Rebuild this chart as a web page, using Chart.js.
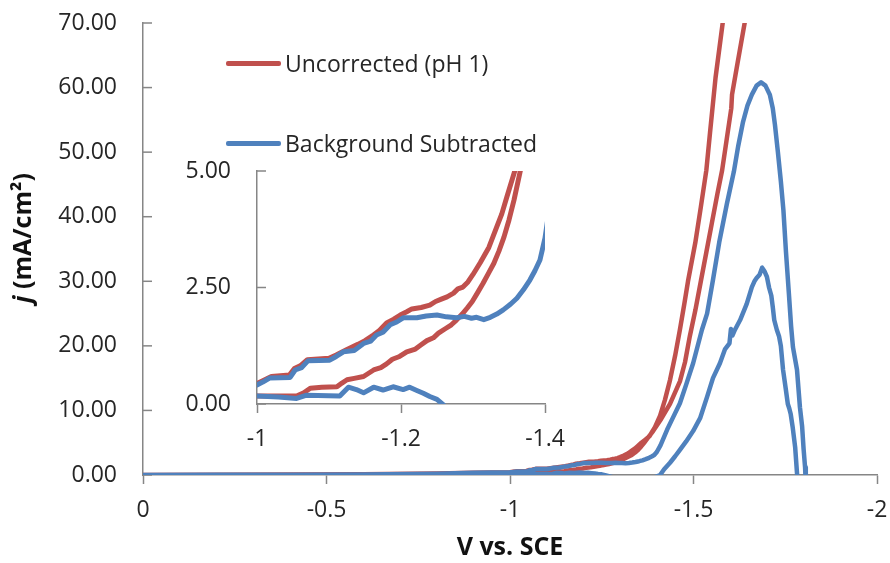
<!DOCTYPE html>
<html>
<head>
<meta charset="utf-8">
<script src="https://cdn.jsdelivr.net/npm/chart.js@4.4.1/dist/chart.umd.min.js"></script>
<style>
  body { margin: 0; background: #fff; }
  #wrap { position: relative; width: 890px; height: 563px; font-family: 'Open Sans', sans-serif; }
  #wrap canvas { position: absolute; }
  .leg-line { position: absolute; height: 4.5px; width: 55px; left: 226px; border-radius: 2px; }
  .leg-text { position: absolute; left: 285px; font-size: 23px; color: #262626; white-space: nowrap; line-height: 30px; }
</style>
</head>
<body>
<div id="wrap">
  <canvas id="mainChart" width="890" height="563" style="left:0;top:0"></canvas>
  <canvas id="insetChart" width="420" height="320" style="left:150px;top:140px"></canvas>
  <div id="legend"></div>
</div>
<script>
// Voltametria: densidade de corrente j (mA/cm2) vs potencial V vs. SCE

const seriesNames = ['Uncorrected (pH 1)', 'Background Subtracted'];
const seriesColors = ['#C0504D', '#4F81BD'];

// Curva sem correção (ida pelo ramo inferior, volta pelo ramo superior)
const uncorrectedV = [
  0, -0.2, -0.4, -0.6, -0.8, -0.9, -1.0, -1.03, -1.055, -1.065, -1.074, -1.09, -1.111, -1.118, -1.125,
  -1.135, -1.148, -1.155, -1.162, -1.172, -1.18, -1.188, -1.198, -1.208, -1.22, -1.228, -1.236, -1.245,
  -1.252, -1.262, -1.27, -1.277, -1.285, -1.292, -1.299, -1.306, -1.314, -1.322, -1.329, -1.336, -1.343,
  -1.35, -1.357, -1.365, -1.375, -1.39, -1.41, -1.436, -1.463, -1.477, -1.49, -1.505, -1.52, -1.535,
  -1.55, -1.565, -1.578, -1.59, -1.603, -1.605, -1.62, -1.64, -1.66, -1.8,
  -1.6, -1.58, -1.56, -1.545, -1.535, -1.52, -1.505, -1.485, -1.475, -1.463, -1.45, -1.436, -1.422,
  -1.409, -1.395, -1.38, -1.367, -1.358, -1.347, -1.34, -1.333, -1.322, -1.31, -1.3, -1.293, -1.286,
  -1.279, -1.273, -1.264, -1.256, -1.248, -1.24, -1.228, -1.215, -1.208, -1.199, -1.19, -1.18, -1.17,
  -1.16, -1.15, -1.14, -1.125, -1.11, -1.1, -1.07, -1.06, -1.052, -1.045, -1.02, -1.008, -1.0, -0.9,
  -0.8, -0.6, -0.4, -0.2, 0
];
const uncorrectedJ = [
  0, 0.02, 0.04, 0.07, 0.11, 0.14, 0.17, 0.17, 0.17, 0.24, 0.34, 0.36, 0.37, 0.45, 0.52,
  0.55, 0.59, 0.66, 0.73, 0.78, 0.86, 0.96, 1.02, 1.12, 1.18, 1.27, 1.36, 1.42,
  1.52, 1.62, 1.7, 1.8, 1.93, 2.06, 2.2, 2.38, 2.59, 2.82, 3.02, 3.28, 3.58,
  3.95, 4.38, 4.95, 5.7, 6.8, 8.5, 11.0, 14.5, 17.5, 21.5, 25.5, 30.0, 34.5,
  39.0, 43.5, 47.2, 51.8, 56.8, 58.9, 63.8, 70.2, 76.5, 140,
  77.5, 70.2, 61.5, 53.0, 47.2, 41.5, 36.0, 30.0, 26.5, 22.5, 18.5, 14.7, 11.6,
  9.2, 7.4, 6.0, 5.4, 5.0, 4.44, 4.08, 3.8, 3.36, 3.03, 2.78, 2.62, 2.51,
  2.47, 2.38, 2.3, 2.25, 2.2, 2.12, 2.07, 2.04, 1.98, 1.91, 1.82, 1.74, 1.58,
  1.46, 1.36, 1.28, 1.17, 1.05, 0.98, 0.95, 0.82, 0.76, 0.62, 0.59, 0.5, 0.44, 0.36,
  0.24, 0.12, 0.06, 0.03, 0
];

// Curva com subtração do branco (pico externo na ida, pico interno na volta)
const subtractedV = [
  0, -0.2, -0.4, -0.6, -0.8, -0.9, -1.0, -1.008, -1.018, -1.046, -1.053, -1.062, -1.071, -1.101, -1.11,
  -1.12, -1.135, -1.148, -1.158, -1.166, -1.175, -1.185, -1.194, -1.203, -1.222, -1.235, -1.25, -1.263,
  -1.277, -1.288, -1.298, -1.305, -1.315, -1.324, -1.333, -1.342, -1.352, -1.361, -1.37, -1.379, -1.386,
  -1.393, -1.4, -1.41, -1.428, -1.445, -1.463, -1.48, -1.499, -1.523, -1.537, -1.553, -1.57, -1.591,
  -1.61, -1.622, -1.635, -1.647, -1.659, -1.672, -1.684, -1.696, -1.708, -1.716, -1.722, -1.73, -1.738,
  -1.745, -1.752, -1.76, -1.766, -1.771, -1.782, -1.79, -1.796, -1.8, -1.804, -1.806,
  -1.784, -1.782, -1.777, -1.77, -1.765, -1.761, -1.757, -1.751, -1.744, -1.738, -1.733, -1.727, -1.72,
  -1.716, -1.712, -1.706, -1.7, -1.693, -1.687, -1.68, -1.672, -1.666, -1.659, -1.645, -1.627, -1.613,
  -1.606, -1.602, -1.598, -1.586, -1.572, -1.553, -1.537, -1.518, -1.499, -1.48, -1.463, -1.45, -1.436,
  -1.42, -1.409, -1.38, -1.33, -1.29, -1.259, -1.25, -1.24, -1.231, -1.222, -1.212, -1.203, -1.189,
  -1.175, -1.162, -1.148, -1.138, -1.127, -1.115, -1.069, -1.055, -1.03, -1.0, -0.9, -0.8, -0.6, -0.4,
  -0.2, 0
];
const subtractedJ = [
  0, 0.02, 0.04, 0.09, 0.2, 0.33, 0.41, 0.47, 0.56, 0.57, 0.73, 0.78, 0.93, 0.94, 1.02,
  1.12, 1.15, 1.3, 1.35, 1.48, 1.54, 1.7, 1.76, 1.85, 1.85, 1.89, 1.91, 1.87,
  1.85, 1.88, 1.84, 1.86, 1.81, 1.86, 1.93, 2.02, 2.14, 2.27, 2.45, 2.66, 2.86,
  3.09, 3.56, 4.6, 7.0, 9.0, 11.1, 14.0, 17.3, 22.5, 25.0, 30.2, 36.0, 42.0,
  47.0, 51.0, 54.7, 57.2, 58.9, 60.3, 60.8, 60.3, 58.9, 56.8, 54.2, 50.0, 45.5,
  41.0, 34.5, 28.0, 23.0, 19.8, 16.3, 10.5, 7.5, 4.0, 1.2, -1.5,
  -1.0, 0.3, 4.3, 7.5, 9.4, 10.3, 11.0, 13.5, 16.3, 20.0, 21.5, 22.5, 24.0,
  26.0, 27.8, 29.0, 30.7, 31.6, 32.1, 31.0, 30.5, 30.0, 29.1, 26.5, 24.0, 22.5,
  21.6, 22.6, 20.4, 19.5, 17.3, 15.0, 12.1, 8.8, 6.8, 5.2, 3.9, 2.9, 1.9,
  0.9, 0.0, -0.7, -0.9, -0.5, -0.02, 0.1, 0.16, 0.23, 0.29, 0.36, 0.31, 0.37,
  0.3, 0.36, 0.24, 0.31, 0.36, 0.17, 0.19, 0.12, 0.15, 0.17, 0.13, 0.09, 0.05, 0.03,
  0.01, 0
];

// Rótulos dos eixos (na ordem em que aparecem, da esquerda p/ direita e de baixo p/ cima)
const mainXTickLabels = ['0', '-0.5', '-1', '-1.5', '-2'];
const mainYTickLabels = ['0.00', '10.00', '20.00', '30.00', '40.00', '50.00', '60.00', '70.00'];
const insetXTickLabels = ['-1', '-1.2', '-1.4'];
const insetYTickLabels = ['0.00', '2.50', '5.00'];

const FONT = "'Open Sans', sans-serif";
const AXIS_COLOR = '#868686';
const TEXT_COLOR = '#262626';

function pontos(vs, js) {
    return vs.map((v, i) => ({ x: v, y: js[i] }));
}

function montaDatasets(largura) {
    return [
        {
            label: seriesNames[0],
            data: pontos(uncorrectedV, uncorrectedJ),
            borderColor: seriesColors[0],
            borderWidth: largura,
            showLine: true,
            pointRadius: 0,
            tension: 0,
            borderCapStyle: 'round',
            borderJoinStyle: 'round',
            order: 2
        },
        {
            label: seriesNames[1],
            data: pontos(subtractedV, subtractedJ),
            borderColor: seriesColors[1],
            borderWidth: largura,
            showLine: true,
            pointRadius: 0,
            tension: 0,
            borderCapStyle: 'round',
            borderJoinStyle: 'round',
            order: 1
        }
    ];
}

// Marcas do eixo y voltadas para dentro (estilo Excel)
const ticksInternos = {
    id: 'ticksInternos',
    beforeDatasetsDraw(chart) {
        const s = chart.scales.y;
        const ctx = chart.ctx;
        ctx.save();
        ctx.strokeStyle = AXIS_COLOR;
        ctx.lineWidth = 1.5;
        s.ticks.forEach(t => {
            const y = s.getPixelForValue(t.value);
            ctx.beginPath();
            ctx.moveTo(s.right, y);
            ctx.lineTo(s.right + 9, y);
            ctx.stroke();
        });
        ctx.restore();
    }
};

// Título do eixo y com "j" em itálico
const tituloY = {
    id: 'tituloY',
    afterDraw(chart) {
        const ctx = chart.ctx;
        const area = chart.chartArea;
        const parte1 = 'j';
        const parte2 = ' (mA/cm²)';
        ctx.save();
        ctx.fillStyle = '#111';
        ctx.textBaseline = 'middle';
        ctx.font = `italic bold 25px ${FONT}`;
        const w1 = ctx.measureText(parte1).width;
        ctx.font = `bold 25px ${FONT}`;
        const w2 = ctx.measureText(parte2).width;
        ctx.translate(24, (area.top + area.bottom) / 2 - 11);
        ctx.rotate(-Math.PI / 2);
        const x0 = -(w1 + w2) / 2;
        ctx.font = `italic bold 25px ${FONT}`;
        ctx.fillText(parte1, x0, 0);
        ctx.font = `bold 25px ${FONT}`;
        ctx.fillText(parte2, x0 + w1, 0);
        ctx.restore();
    }
};

function eixoX(min, max, step, labels, altura, titulo) {
    return {
        type: 'linear',
        min: min,
        max: max,
        reverse: true,
        ticks: {
            stepSize: step,
            autoSkip: false,
            maxRotation: 0,
            padding: 2,
            color: TEXT_COLOR,
            // lineHeight alto empurra o rótulo para baixo sem aumentar a margem lateral
            font: { family: FONT, size: 23, lineHeight: 2.1 },
            callback: (v, i) => labels[i]
        },
        grid: {
            display: true,
            drawOnChartArea: false,
            drawTicks: true,
            tickLength: 9,
            tickColor: AXIS_COLOR,
            tickWidth: 1.5
        },
        border: { display: true, color: AXIS_COLOR, width: 1.5 },
        title: titulo ? {
            display: true,
            text: titulo,
            color: '#111',
            font: { family: FONT, size: 25, weight: 'bold' },
            padding: { top: 0, bottom: 0 }
        } : { display: false },
        afterFit: s => { s.height = altura; }
    };
}

function eixoY(max, step, labels, largura) {
    return {
        type: 'linear',
        min: 0,
        max: max,
        ticks: {
            stepSize: step,
            padding: 3,
            color: TEXT_COLOR,
            font: { family: FONT, size: 23 },
            callback: (v, i) => labels[i]
        },
        // marca externa invisível só para afastar o rótulo do eixo
        grid: {
            display: true,
            drawOnChartArea: false,
            drawTicks: true,
            tickLength: 23,
            tickColor: 'rgba(0,0,0,0)'
        },
        border: { display: true, color: AXIS_COLOR, width: 1.5 },
        afterFit: s => { s.width = largura; }
    };
}

const opcoesBase = {
    responsive: false,
    animation: false,
    devicePixelRatio: 1,
    plugins: {
        legend: { display: false },
        tooltip: { enabled: false }
    }
};

// Gráfico principal
new Chart(document.getElementById('mainChart'), {
    type: 'scatter',
    data: { datasets: montaDatasets(4.5) },
    options: {
        ...opcoesBase,
        layout: { padding: { left: 0, top: 23, right: 13, bottom: 0 } },
        scales: {
            x: eixoX(-2, 0, 0.5, mainXTickLabels, 88, 'V vs. SCE'),
            y: eixoY(70, 10, mainYTickLabels, 143)
        }
    },
    plugins: [ticksInternos, tituloY]
});

// Gráfico ampliado (inset)
new Chart(document.getElementById('insetChart'), {
    type: 'scatter',
    data: { datasets: montaDatasets(5) },
    options: {
        ...opcoesBase,
        layout: { padding: { left: 0, top: 31, right: 25, bottom: 0 } },
        scales: {
            x: eixoX(-1.4, -1, 0.2, insetXTickLabels, 56, null),
            y: eixoY(5, 2.5, insetYTickLabels, 107)
        }
    },
    plugins: [ticksInternos]
});

// Legenda
const legendaTops = [63, 143];
const legenda = document.getElementById('legend');
seriesNames.forEach((nome, i) => {
    const linha = document.createElement('div');
    linha.className = 'leg-line';
    linha.style.top = (legendaTops[i] - 2) + 'px';
    linha.style.background = seriesColors[i];
    legenda.appendChild(linha);

    const texto = document.createElement('div');
    texto.className = 'leg-text';
    texto.style.top = (legendaTops[i] - 15) + 'px';
    texto.textContent = nome;
    legenda.appendChild(texto);
});
</script>
</body>
</html>
